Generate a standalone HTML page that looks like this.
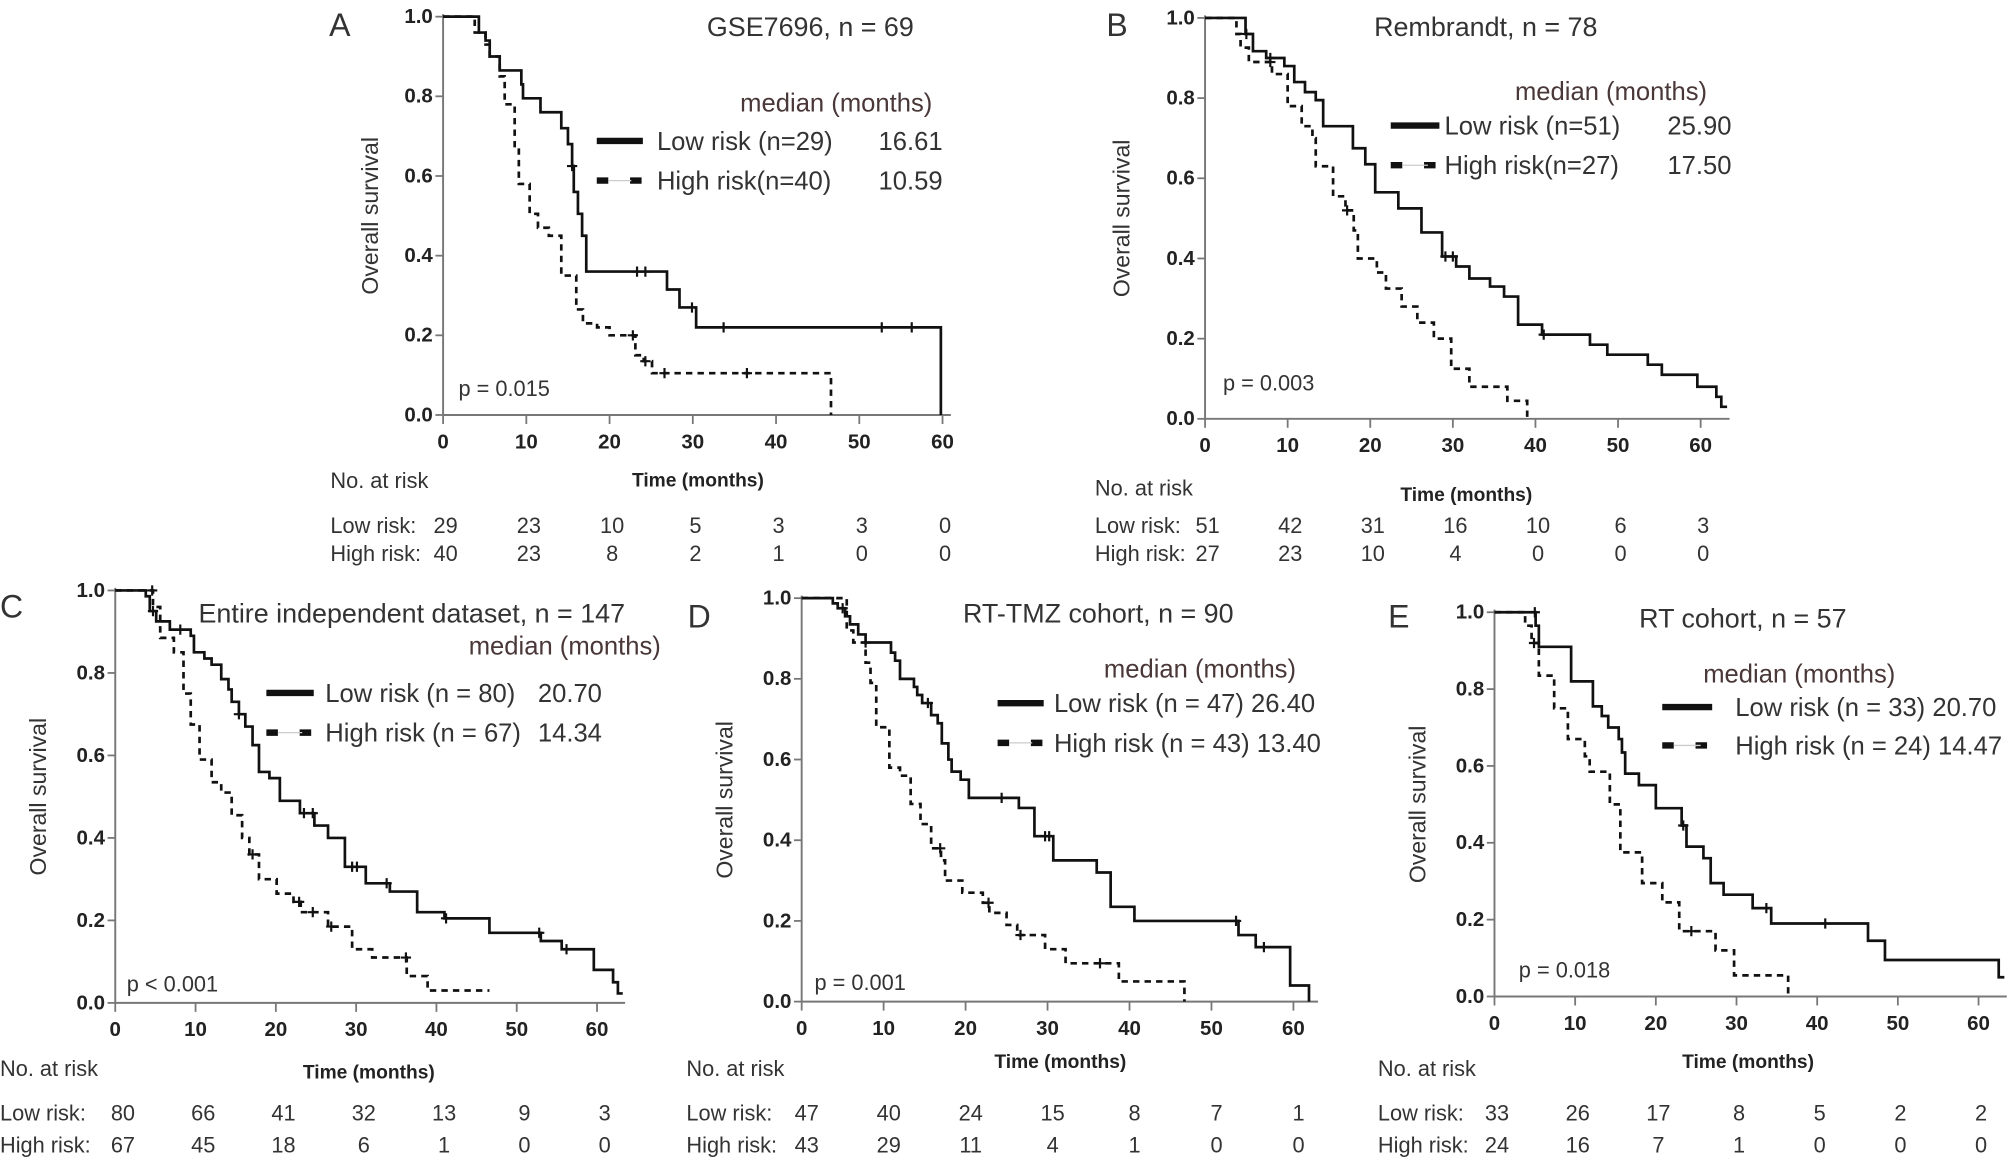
<!DOCTYPE html>
<html><head><meta charset="utf-8"><style>
html,body{margin:0;padding:0;background:#fff;}
svg{display:block;font-family:"Liberation Sans",Arial,sans-serif;}
.tk{font-weight:bold;font-size:16px;fill:#222;}
.t{fill:#333;}
</style></head><body>
<svg id="fig" width="2008" height="1163" viewBox="0 0 1568 908" preserveAspectRatio="none" xmlns="http://www.w3.org/2000/svg"></svg>
<script>
// ===== Data =====
const xTicks = [0,10,20,30,40,50,60];
const yTicks = [0,0.2,0.4,0.6,0.8,1.0];
const yTickLabels = ["0.0","0.2","0.4","0.6","0.8","1.0"];

const aLowSteps = [[4.3,0.96],[5.1,0.94],[5.6,0.90],[6.8,0.865],[9.4,0.83],[9.6,0.795],[11.7,0.76],[14.2,0.72],[15,0.68],[15.5,0.625],[15.7,0.56],[16.2,0.505],[16.7,0.45],[17.2,0.36],[26.9,0.315],[28.4,0.27],[30.4,0.22],[59.8,0]];
const aLowEnd = 59.8;
const aLowCens = [15.5,23.3,24.3,29.9,33.7,52.7,56.3];
const aHighSteps = [[3.8,0.96],[5.1,0.93],[5.6,0.90],[6.8,0.85],[7.4,0.78],[8.6,0.67],[9.1,0.58],[10.4,0.505],[11.4,0.47],[12.7,0.45],[14.2,0.35],[16,0.265],[16.8,0.23],[18.5,0.22],[20,0.20],[23.1,0.15],[24.1,0.135],[25.1,0.105],[46.6,0]];
const aHighEnd = 46.6;
const aHighCens = [22.8,24.3,26.6,36.5];
const aRiskLow = [29,23,10,5,3,3,0];
const aRiskHigh = [40,23,8,2,1,0,0];

const bLowSteps = [[4.9,0.96],[5.8,0.917],[7.4,0.90],[9.6,0.88],[10.8,0.84],[12.1,0.815],[13.4,0.795],[14.3,0.73],[17.9,0.675],[19.4,0.635],[20.6,0.565],[23.4,0.525],[26.2,0.465],[28.7,0.405],[30.4,0.38],[32,0.35],[34.5,0.33],[36.2,0.305],[37.9,0.235],[40.8,0.21],[46.6,0.185],[48.7,0.16],[53.6,0.135],[55.3,0.11],[59.6,0.08],[61.9,0.055],[62.5,0.03]];
const bLowEnd = 63.2;
const bLowCens = [5.0,7.9,29.1,30,41];
const bHighSteps = [[3.8,0.96],[4.3,0.926],[5.3,0.89],[8.1,0.86],[10,0.78],[11.7,0.73],[13,0.70],[13.4,0.63],[15.5,0.555],[17,0.52],[18,0.47],[18.5,0.40],[20.8,0.365],[21.9,0.325],[23.8,0.28],[25.7,0.24],[27.7,0.20],[29.8,0.125],[32,0.08],[36.6,0.045],[39,0]];
const bHighEnd = 39;
const bHighCens = [7.9,17.2];
const bRiskLow = [51,42,31,16,10,6,3];
const bRiskHigh = [27,23,10,4,0,0,0];

const cLowSteps = [[3.8,0.986],[4.3,0.95],[5.1,0.925],[6.8,0.905],[9.4,0.89],[9.8,0.85],[11.1,0.835],[12,0.82],[13.2,0.785],[14.1,0.76],[14.5,0.73],[15.4,0.70],[16.2,0.67],[17.1,0.625],[17.9,0.56],[19.2,0.545],[20.5,0.49],[23,0.46],[24.8,0.43],[26.5,0.40],[28.6,0.33],[31.2,0.29],[34.2,0.27],[37.6,0.22],[41,0.205],[46.6,0.17],[53,0.15],[55.6,0.13],[59.6,0.08],[62,0.05],[62.6,0.023]];
const cLowEnd = 63.2;
const cLowCens = [4.7,8.1,15.4,23.5,24.6,29.5,30.1,33.8,41.2,52.8,56.2];
const cHighSteps = [[4.7,0.96],[5.6,0.885],[7.3,0.85],[8.5,0.75],[9.4,0.675],[10.5,0.59],[12,0.535],[13.2,0.51],[14.5,0.455],[15.8,0.40],[16.7,0.36],[17.9,0.30],[20.1,0.265],[22.2,0.245],[23.1,0.22],[26.5,0.185],[29.5,0.13],[32,0.11],[36.3,0.065],[38.9,0.03]];
const cHighEnd = 46.6;
const cHighCens = [4.6,17.1,22.9,24.6,26.9,36.2];
const cRiskLow = [80,66,41,32,13,9,3];
const cRiskHigh = [67,45,18,6,1,0,0];

const dLowSteps = [[3.8,0.987],[4.4,0.975],[5.3,0.955],[5.9,0.935],[6.9,0.91],[7.8,0.89],[10.9,0.865],[11.4,0.845],[12,0.80],[13.7,0.78],[14.1,0.76],[14.7,0.74],[15.8,0.71],[16.6,0.69],[17.1,0.64],[17.9,0.60],[18.3,0.57],[19.4,0.55],[20.4,0.505],[26.5,0.48],[28.4,0.41],[30.7,0.35],[36,0.32],[37.7,0.235],[40.6,0.20],[53.3,0.165],[55.4,0.135],[59.6,0.04],[61.9,0]];
const dLowEnd = 61.9;
const dLowCens = [5.0,7.8,15.4,24.4,29.7,30.2,53,56.4];
const dHighSteps = [[5.5,0.92],[6.3,0.89],[7.8,0.84],[8.4,0.79],[9.1,0.68],[10.7,0.58],[12,0.56],[13.3,0.49],[14.5,0.44],[15.8,0.38],[17,0.35],[17.5,0.30],[19.6,0.27],[22.1,0.245],[22.9,0.22],[25,0.19],[26.3,0.165],[29.7,0.13],[32.2,0.095],[38.7,0.05],[46.7,0]];
const dHighEnd = 46.7;
const dHighCens = [16.9,22.8,26.7,36.4];
const dRiskLow = [47,40,24,15,8,7,1];
const dRiskHigh = [43,29,11,4,1,0,0];

const eLowSteps = [[5.1,0.965],[5.5,0.91],[9.5,0.82],[12.2,0.755],[13.3,0.73],[14.1,0.70],[15.4,0.67],[15.8,0.635],[16.2,0.58],[17.9,0.55],[20,0.49],[23.2,0.445],[23.8,0.39],[25.9,0.36],[26.8,0.295],[28.4,0.265],[32,0.23],[34.3,0.19],[46.3,0.145],[48.4,0.095],[62.5,0.05]];
const eLowEnd = 63.2;
const eLowCens = [5.0,23.4,33.7,41];
const eHighSteps = [[3.8,0.965],[4.6,0.92],[5.5,0.835],[7.4,0.75],[9.1,0.67],[11.2,0.625],[11.8,0.585],[14.3,0.50],[15.6,0.375],[18.3,0.295],[20.8,0.245],[22.9,0.17],[27.4,0.12],[29.7,0.055],[36.4,0]];
const eHighEnd = 36.4;
const eHighCens = [4.9,24.4];
const eRiskLow = [33,26,17,8,5,2,2];
const eRiskHigh = [24,16,7,1,0,0,0];

// ===== Layout =====
const NS = "http://www.w3.org/2000/svg";
const fig = document.getElementById('fig');
function el(tag, attrs, parent, text){
  const e = document.createElementNS(NS, tag);
  for (const k in attrs) e.setAttribute(k, attrs[k]);
  if (text !== undefined) e.textContent = text;
  (parent||fig).appendChild(e);
  return e;
}
function survAt(steps, t){
  let s = 1;
  for (const st of steps){ if (st[0] <= t) s = st[1]; }
  return s;
}
function drawPanel(p){
  const g = el('g', {});
  
  
  const X = t => p.x0 + t * p.ppm;
  const Y = s => p.yb - s * (p.yb - p.yt);
  const ax = el('path', {d:`M${X(0)} ${p.yt-2} V${p.yb} H${X(p.xmax)}`, stroke:'#777', 'stroke-width':1.5, fill:'none'}, g);
  
  
  yTicks.forEach((v,i)=>{
    el('line', {x1:X(0)-6, x2:X(0), y1:Y(v), y2:Y(v), stroke:'#777','stroke-width':1.4}, g);
    const tl = el('text', {x:X(0)-8, y:Y(v)+5, 'text-anchor':'end', class:'tk'}, g, yTickLabels[i]);
    
    
  });
  xTicks.forEach(v=>{
    el('line', {x1:X(v), x2:X(v), y1:p.yb, y2:p.yb+7, stroke:'#777','stroke-width':1.4}, g);
    const tl = el('text', {x:X(v), y:p.yb+26, 'text-anchor':'middle', class:'tk'}, g, String(v));
    
    
  });
  const yl = el('text', {x:0, y:0, transform:`translate(${p.ylx},${(p.yt+p.yb)/2}) rotate(-90)`, 'text-anchor':'middle', 'font-size':18, class:'t'}, g, 'Overall survival');
  
  
  const xl = el('text', {x:p.xtx, y:p.xty, 'text-anchor':'middle', 'font-size':15, 'font-weight':'bold', fill:'#222'}, g, 'Time (months)');
  
  
  function curve(steps, end, cens, dashed, name){
    let d = `M${X(0)} ${Y(1)}`;
    steps.forEach(st => { d += ` H${X(st[0])} V${Y(st[1])}`; });
    d += ` H${X(end)}`;
    const c = el('path', {d, fill:'none', stroke:'#111', 'stroke-width':2.1, 'stroke-dasharray': dashed ? '5,4' : 'none'}, g);
    
    
    cens.forEach(t=>{
      const cx = X(t), cy = Y(survAt(steps, t));
      const m = el('path', {d:`M${cx-4} ${cy} H${cx+4} M${cx} ${cy-4} V${cy+4}`, stroke:'#111','stroke-width':1.7}, g);
      
      
    });
  }
  curve(p.lowSteps, p.lowEnd, p.lowCens, false, 'low-risk-curve');
  curve(p.highSteps, p.highEnd, p.highCens, true, 'high-risk-curve');
  const lt = el('text', {x:p.letter[0], y:p.letter[1], 'font-size':25, class:'t'}, g, p.key.toUpperCase());
  
  
  const tt = el('text', {x:p.title[0], y:p.title[1], 'font-size':21, class:'t'}, g, p.titleText);
  
  
  const lg = el('g', {}, g);
  
  
  el('text', {x:p.med[0], y:p.med[1], 'font-size':20, fill:'#4a3838'}, lg, 'median (months)');
  el('line', {x1:p.leg[0], x2:p.leg[1], y1:p.leg[2], y2:p.leg[2], stroke:'#111','stroke-width':5}, lg);
  el('line', {x1:p.leg[0], x2:p.leg[1], y1:p.leg[3], y2:p.leg[3], stroke:'#111','stroke-width':5,'stroke-dasharray':'9,17'}, lg);
  el('line', {x1:p.leg[0]+9, x2:p.leg[1]-9, y1:p.leg[3], y2:p.leg[3], stroke:'#ccc','stroke-width':1}, lg);
  el('text', {x:p.legTx, y:p.leg[2]+7, 'font-size':20, class:'t'}, lg, p.lowLabel);
  el('text', {x:p.legTx, y:p.leg[3]+7, 'font-size':20, class:'t'}, lg, p.highLabel);
  if (p.legVx){
    el('text', {x:p.legVx, y:p.leg[2]+7, 'font-size':20, class:'t'}, lg, p.lowMed);
    el('text', {x:p.legVx, y:p.leg[3]+7, 'font-size':20, class:'t'}, lg, p.highMed);
  }
  const pv = el('text', {x:p.pv[0], y:p.pv[1], 'font-size':17, class:'t'}, g, p.pText);
  
  
  const rt = el('g', {}, g);
  
  
  el('text', {x:p.rx, y:p.ry[0], 'font-size':17, class:'t'}, rt, 'No. at risk');
  el('text', {x:p.rx, y:p.ry[1], 'font-size':17, class:'t'}, rt, 'Low risk:');
  el('text', {x:p.rx, y:p.ry[2], 'font-size':17, class:'t'}, rt, 'High risk:');
  xTicks.forEach((v,i)=>{
    el('text', {x:X(v)+p.rOff, y:p.ry[1], 'font-size':17, 'text-anchor':'middle', class:'t'}, rt, String(p.riskLow[i]));
    el('text', {x:X(v)+p.rOff, y:p.ry[2], 'font-size':17, 'text-anchor':'middle', class:'t'}, rt, String(p.riskHigh[i]));
  });
}

drawPanel({key:'a', x0:346, ppm:6.5, yt:13, yb:324, xmax:61, ylx:295, xtx:545, xty:380,
  lowSteps:aLowSteps, lowEnd:aLowEnd, lowCens:aLowCens, highSteps:aHighSteps, highEnd:aHighEnd, highCens:aHighCens,
  letter:[257,28], title:[552,28], titleText:'GSE7696, n = 69',
  med:[578,87], leg:[466,502,110,141], legTx:[513], legVx:686, lowLabel:'Low risk (n=29)', highLabel:'High risk(n=40)', lowMed:'16.61', highMed:'10.59',
  pv:[358,309], pText:'p = 0.015', rx:258, ry:[381,416,438], rOff:2, riskLow:aRiskLow, riskHigh:aRiskHigh});

drawPanel({key:'b', x0:941, ppm:6.45, yt:14, yb:327, xmax:63.5, ylx:882, xtx:1145, xty:391,
  lowSteps:bLowSteps, lowEnd:bLowEnd, lowCens:bLowCens, highSteps:bHighSteps, highEnd:bHighEnd, highCens:bHighCens,
  letter:[864,28], title:[1073,28], titleText:'Rembrandt, n = 78',
  med:[1183,78], leg:[1086,1124,98,129], legTx:[1128], legVx:1302, lowLabel:'Low risk (n=51)', highLabel:'High risk(n=27)', lowMed:'25.90', highMed:'17.50',
  pv:[955,305], pText:'p = 0.003', rx:855, ry:[387,416,438], rOff:2, riskLow:bRiskLow, riskHigh:bRiskHigh});

drawPanel({key:'c', x0:90, ppm:6.27, yt:461, yb:783, xmax:63.5, ylx:36, xtx:288, xty:842,
  lowSteps:cLowSteps, lowEnd:cLowEnd, lowCens:cLowCens, highSteps:cHighSteps, highEnd:cHighEnd, highCens:cHighCens,
  letter:[0,482], title:[155,486], titleText:'Entire independent dataset, n = 147',
  med:[366,511], leg:[208,245,541,572], legTx:[254], legVx:420, lowLabel:'Low risk  (n = 80)', highLabel:'High risk (n = 67)', lowMed:'20.70', highMed:'14.34',
  pv:[99,774], pText:'p < 0.001', rx:0, ry:[840,875,900], rOff:6, riskLow:cRiskLow, riskHigh:cRiskHigh});

drawPanel({key:'d', x0:626, ppm:6.4, yt:467, yb:782, xmax:63, ylx:572, xtx:828, xty:834,
  lowSteps:dLowSteps, lowEnd:dLowEnd, lowCens:dLowCens, highSteps:dHighSteps, highEnd:dHighEnd, highCens:dHighCens,
  letter:[537,490], title:[752,486], titleText:'RT-TMZ cohort,  n = 90',
  med:[862,529], leg:[779,815,549,580], legTx:[823], legVx:0, lowLabel:'Low risk  (n = 47) 26.40', highLabel:'High risk (n = 43) 13.40',
  pv:[636,773], pText:'p = 0.001', rx:536, ry:[840,875,900], rOff:4, riskLow:dRiskLow, riskHigh:dRiskHigh});

drawPanel({key:'e', x0:1167, ppm:6.3, yt:478, yb:778, xmax:63.5, ylx:1113, xtx:1365, xty:834,
  lowSteps:eLowSteps, lowEnd:eLowEnd, lowCens:eLowCens, highSteps:eHighSteps, highEnd:eHighEnd, highCens:eHighCens,
  letter:[1084,490], title:[1280,490], titleText:'RT cohort,  n = 57',
  med:[1330,533], leg:[1298,1337,552,582], legTx:[1355], legVx:0, lowLabel:'Low risk  (n = 33) 20.70', highLabel:'High risk (n = 24) 14.47',
  pv:[1186,763], pText:'p = 0.018', rx:1076, ry:[840,875,900], rOff:2, riskLow:eRiskLow, riskHigh:eRiskHigh});
</script>
</body></html>
